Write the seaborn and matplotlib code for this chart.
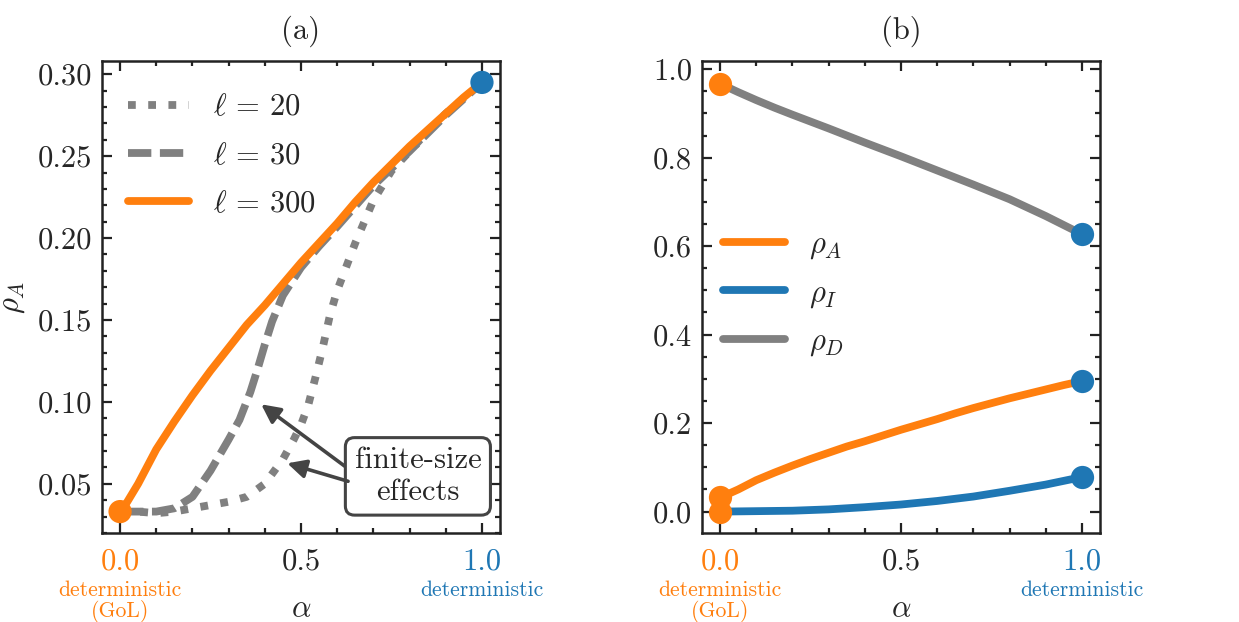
import numpy as np
import seaborn as sns
import matplotlib.pyplot as plt
from matplotlib.ticker import MultipleLocator
import matplotlib.transforms as mtransforms

# Data
alpha_300 = [0.0, 0.02, 0.05, 0.1, 0.15, 0.2, 0.25, 0.3, 0.35, 0.4, 0.45, 0.5,
             0.55, 0.6, 0.65, 0.7, 0.75, 0.8, 0.85, 0.9, 0.95, 1.0]
rho_A = [0.033, 0.039, 0.050, 0.071, 0.088, 0.104, 0.119, 0.133, 0.147, 0.159, 0.172, 0.185,
         0.197, 0.209, 0.222, 0.234, 0.245, 0.256, 0.266, 0.276, 0.286, 0.295]

alpha_30 = [0.0, 0.05, 0.1, 0.15, 0.2, 0.25, 0.3, 0.33, 0.36, 0.38, 0.4, 0.42, 0.45,
            0.5, 0.55, 0.6, 0.7, 0.8, 0.9, 1.0]
rho_A_30 = [0.033, 0.033, 0.033, 0.035, 0.042, 0.058, 0.077, 0.089, 0.106, 0.120, 0.135, 0.149, 0.165,
            0.182, 0.195, 0.207, 0.232, 0.253, 0.275, 0.295]

alpha_20 = [0.0, 0.05, 0.1, 0.15, 0.2, 0.25, 0.3, 0.35, 0.4, 0.45, 0.48, 0.5, 0.52, 0.54,
            0.56, 0.58, 0.6, 0.65, 0.7, 0.75, 0.8, 0.85, 0.9, 1.0]
rho_A_20 = [0.033, 0.033, 0.032, 0.033, 0.035, 0.037, 0.039, 0.042, 0.050, 0.065, 0.077, 0.086, 0.098, 0.115,
            0.133, 0.153, 0.168, 0.197, 0.223, 0.241, 0.253, 0.265, 0.276, 0.295]

alpha_b = [0.0, 0.05, 0.1, 0.15, 0.2, 0.3, 0.4, 0.5, 0.6, 0.7, 0.8, 0.9, 1.0]
rho_D = [0.967, 0.948, 0.930, 0.913, 0.897, 0.866, 0.834, 0.803, 0.771, 0.739, 0.706, 0.668, 0.627]
rho_I = [0.0, 0.0005, 0.001, 0.0015, 0.002, 0.005, 0.010, 0.016, 0.024, 0.034, 0.047, 0.061, 0.078]

ends_left = [0.033, 0.295]
ends_b_start = [0.967, 0.033, 0.0]
ends_b_end = [0.627, 0.295, 0.078]

orange = '#ff7f0e'
blue = '#1f77b4'
gray = '#808080'

sns.set_style('ticks')
plt.rcParams['font.family'] = 'serif'
plt.rcParams['font.serif'] = ['cmr10', 'DejaVu Serif']
plt.rcParams['mathtext.fontset'] = 'cm'
plt.rcParams['axes.unicode_minus'] = False
plt.rcParams['axes.formatter.use_mathtext'] = True

fs = 11
fig = plt.figure(figsize=(6.195, 3.11), dpi=200)
ax1 = fig.add_axes([0.0823, 0.143, 0.3213, 0.759])
ax2 = fig.add_axes([0.5666, 0.143, 0.3212, 0.759])

# (a)
sns.lineplot(x=alpha_20, y=rho_A_20, ax=ax1, color=gray, lw=2.8,
             linestyle=(0, (1, 1.6)), label=r'$\ell\,=\,20$')
sns.lineplot(x=alpha_30, y=rho_A_30, ax=ax1, color=gray, lw=2.8,
             linestyle=(0, (3.0, 1.1)), label=r'$\ell\,=\,30$')
sns.lineplot(x=alpha_300, y=rho_A, ax=ax1, color=orange, lw=2.8, label=r'$\ell\,=\,300$')
sns.scatterplot(x=[0.0, 1.0], y=ends_left, ax=ax1, hue=[0, 1],
                palette=[orange, blue], s=70, linewidth=0, zorder=5, legend=False, clip_on=False)
ax1.legend(loc='upper left', frameon=False, fontsize=fs, handlelength=2.0,
           labelspacing=0.68, borderaxespad=0.45, handletextpad=0.8,
           bbox_to_anchor=(0.0, 0.985))
ax1.set_ylabel(r'$\rho_A$', fontsize=fs)
ax1.set_title('(a)', fontsize=fs, pad=8)
ax1.set_yticks([0.05, 0.10, 0.15, 0.20, 0.25, 0.30])
ax1.set_yticklabels(['0.05', '0.10', '0.15', '0.20', '0.25', '0.30'])
ax1.yaxis.set_minor_locator(MultipleLocator(0.01))

bbox = dict(boxstyle='round,pad=0.3', fc='white', ec='#444444', lw=1.1)
arrow = dict(arrowstyle='-|>', color='#444444', lw=1.3, mutation_scale=14,
             shrinkA=0, shrinkB=0, relpos=(0.0, 0.55))
ax1.annotate('finite-size\neffects', xy=(0.39, 0.0985), xytext=(0.823, 0.0545),
             ha='center', va='center', fontsize=fs, bbox=bbox, arrowprops=arrow, zorder=6)
arrow2 = dict(arrowstyle='-|>', color='#444444', lw=1.3, mutation_scale=14, shrinkA=0, shrinkB=0)
ax1.annotate('', xy=(0.462, 0.0625), xytext=(0.63, 0.0515), arrowprops=arrow2, zorder=6)

# (b)
sns.lineplot(x=alpha_300, y=rho_A, ax=ax2, color=orange, lw=2.8, label=r'$\rho_A$')
sns.lineplot(x=alpha_b, y=rho_I, ax=ax2, color=blue, lw=2.8, label=r'$\rho_I$')
sns.lineplot(x=alpha_b, y=rho_D, ax=ax2, color=gray, lw=2.8, label=r'$\rho_D$')
sns.scatterplot(x=[0.0] * 3, y=ends_b_start, ax=ax2, color=orange, s=70,
                linewidth=0, zorder=5, legend=False, clip_on=False)
sns.scatterplot(x=[1.0] * 3, y=ends_b_end, ax=ax2, color=blue, s=70,
                linewidth=0, zorder=5, legend=False, clip_on=False)
ax2.legend(loc='center left', frameon=False, fontsize=fs, handlelength=2.0,
           labelspacing=0.6, borderaxespad=0.3, handletextpad=0.8,
           bbox_to_anchor=(0.0, 0.505))
ax2.set_title('(b)', fontsize=fs, pad=8)
ax2.set_yticks([0.0, 0.2, 0.4, 0.6, 0.8, 1.0])
ax2.set_yticklabels(['0.0', '0.2', '0.4', '0.6', '0.8', '1.0'])
ax2.yaxis.set_minor_locator(MultipleLocator(0.05))

for ax in (ax1, ax2):
    ax.set_xlim(-0.05, 1.05)
    ax.set_xticks([0.0, 0.5, 1.0])
    ax.set_xticklabels(['0.0', '0.5', '1.0'])
    ax.xaxis.set_minor_locator(MultipleLocator(0.1))
    ax.set_xlabel(r'$\alpha$', fontsize=fs, labelpad=7)
    ax.tick_params(which='both', direction='in', top=True, right=True,
                   labelsize=fs, width=0.8, color='#222222')
    ax.tick_params(which='major', length=3.6)
    ax.tick_params(axis='x', which='major', pad=5.5)
    ax.tick_params(which='minor', length=1.9)
    for s in ax.spines.values():
        s.set_linewidth(0.9)
        s.set_color('#222222')
    labs = ax.get_xticklabels()
    labs[0].set_color(orange)
    labs[2].set_color(blue)
    trans = mtransforms.blended_transform_factory(ax.transData, ax.transAxes)
    ax.text(0.0, -0.1, 'deterministic\n(GoL)', transform=trans, ha='center', va='top',
            color=orange, fontsize=7.8, linespacing=1.0)
    ax.text(1.0, -0.1, 'deterministic', transform=trans, ha='center', va='top',
            color=blue, fontsize=7.8)

ax1.set_ylim(0.0199, 0.3081)
ax2.set_ylim(-0.0485, 1.0185)

fig.savefig('out.png', dpi=200)
